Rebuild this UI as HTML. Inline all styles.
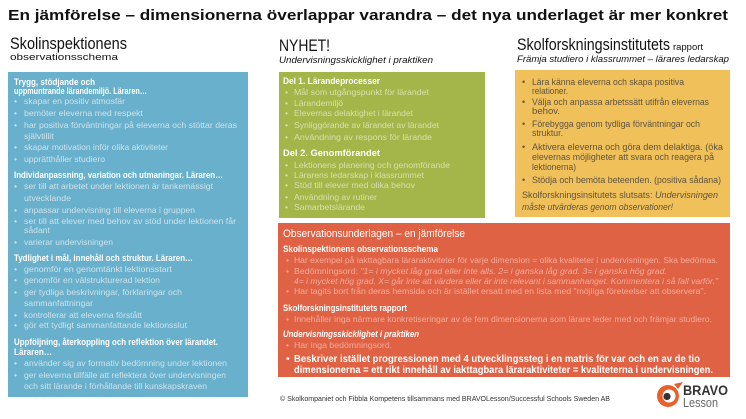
<!DOCTYPE html>
<html><head><meta charset="utf-8"><style>
html,body{margin:0;padding:0;background:#fff;}
svg{display:block;}
text{font-family:"Liberation Sans",Arial,sans-serif;}
.bl{fill:#cfe2ea;font-size:8.6px;}
.bh{fill:#fff;font-size:9px;font-weight:bold;}
.gl{fill:#d6e1ab;font-size:8.6px;}
.gh{fill:#fff;font-size:9px;font-weight:bold;}
.yl{fill:#5e5440;font-size:9px;}
.rl{fill:#f4ab9a;font-size:8.6px;}
.rh{fill:#fff;font-size:9px;font-weight:bold;}
</style></head><body>
<svg width="746" height="419" viewBox="0 0 746 419" xmlns="http://www.w3.org/2000/svg">
<rect width="746" height="419" fill="#fff"/>
<!-- title -->
<text x="8" y="20" font-size="15" font-weight="bold" fill="#111" textLength="720" lengthAdjust="spacingAndGlyphs">En jämförelse – dimensionerna överlappar varandra – det nya underlaget är mer konkret</text>
<!-- column headers -->
<text x="10" y="49" font-size="17" fill="#111" textLength="117" lengthAdjust="spacingAndGlyphs">Skolinspektionens</text>
<text x="10" y="60" font-size="9" fill="#111" textLength="108" lengthAdjust="spacingAndGlyphs">observationsschema</text>
<text x="279" y="51" font-size="17" fill="#111" textLength="51" lengthAdjust="spacingAndGlyphs">NYHET!</text>
<text x="279" y="63" font-size="9" font-style="italic" fill="#111" textLength="154" lengthAdjust="spacingAndGlyphs">Undervisningsskicklighet i praktiken</text>
<text x="517" y="50" font-size="17" fill="#111" textLength="153" lengthAdjust="spacingAndGlyphs">Skolforskningsinstitutets</text>
<text x="673" y="50" font-size="9" fill="#111" textLength="30" lengthAdjust="spacingAndGlyphs">rapport</text>
<text x="517" y="62" font-size="9" font-style="italic" fill="#111" textLength="212" lengthAdjust="spacingAndGlyphs">Främja studiero i klassrummet – lärares ledarskap</text>

<!-- blue box -->
<rect x="8" y="72" width="240" height="325" fill="#68b0cc"/>
<g>
<text class="bh" x="14" y="85" textLength="81" lengthAdjust="spacingAndGlyphs">Trygg, stödjande och</text>
<text class="bh" x="14" y="94" textLength="133" lengthAdjust="spacingAndGlyphs">uppmuntrande lärandemiljö. Läraren…</text>
<g class="bl">
<text x="14" y="104">•</text><text x="24" y="104" textLength="101" lengthAdjust="spacingAndGlyphs">skapar en positiv atmosfär</text>
<text x="14" y="116">•</text><text x="24" y="116" textLength="119" lengthAdjust="spacingAndGlyphs">bemöter eleverna med respekt</text>
<text x="14" y="128">•</text><text x="24" y="128" textLength="213" lengthAdjust="spacingAndGlyphs">har positiva förväntningar på eleverna och stöttar deras</text>
<text x="24" y="139">självtillit</text>
<text x="14" y="150">•</text><text x="24" y="150" textLength="144" lengthAdjust="spacingAndGlyphs">skapar motivation inför olika aktiviteter</text>
<text x="14" y="162">•</text><text x="24" y="162" textLength="81" lengthAdjust="spacingAndGlyphs">upprätthåller studiero</text>
</g>
<text class="bh" x="14" y="178" textLength="209" lengthAdjust="spacingAndGlyphs">Individanpassning, variation och utmaningar. Läraren…</text>
<g class="bl">
<text x="14" y="189">•</text><text x="24" y="189" textLength="189" lengthAdjust="spacingAndGlyphs">ser till att arbetet under lektionen är tankemässigt</text>
<text x="24" y="201" textLength="47" lengthAdjust="spacingAndGlyphs">utvecklande</text>
<text x="14" y="213">•</text><text x="24" y="213" textLength="171" lengthAdjust="spacingAndGlyphs">anpassar undervisning till eleverna i gruppen</text>
<text x="14" y="224">•</text><text x="24" y="224" textLength="212" lengthAdjust="spacingAndGlyphs">ser till att elever med behov av stöd under lektionen får</text>
<text x="24" y="233" textLength="26" lengthAdjust="spacingAndGlyphs">sådant</text>
<text x="14" y="245">•</text><text x="24" y="245" textLength="89" lengthAdjust="spacingAndGlyphs">varierar undervisningen</text>
</g>
<text class="bh" x="14" y="261" textLength="179" lengthAdjust="spacingAndGlyphs">Tydlighet i mål, innehåll och struktur. Läraren…</text>
<g class="bl">
<text x="14" y="272">•</text><text x="24" y="272" textLength="148" lengthAdjust="spacingAndGlyphs">genomför en genomtänkt lektionsstart</text>
<text x="14" y="283">•</text><text x="24" y="283" textLength="136" lengthAdjust="spacingAndGlyphs">genomför en välstrukturerad lektion</text>
<text x="14" y="295">•</text><text x="24" y="295" textLength="158" lengthAdjust="spacingAndGlyphs">ger tydliga beskrivningar, förklaringar och</text>
<text x="24" y="306" textLength="69" lengthAdjust="spacingAndGlyphs">sammanfattningar</text>
<text x="14" y="318">•</text><text x="24" y="318" textLength="118" lengthAdjust="spacingAndGlyphs">kontrollerar att eleverna förstått</text>
<text x="14" y="328">•</text><text x="24" y="328" textLength="163" lengthAdjust="spacingAndGlyphs">gör ett tydligt sammanfattande lektionsslut</text>
</g>
<text class="bh" x="14" y="345" textLength="204" lengthAdjust="spacingAndGlyphs">Uppföljning, återkoppling och reflektion över lärandet.</text>
<text class="bh" x="14" y="355" textLength="38" lengthAdjust="spacingAndGlyphs">Läraren…</text>
<g class="bl">
<text x="14" y="366">•</text><text x="24" y="366" textLength="203" lengthAdjust="spacingAndGlyphs">använder sig av formativ bedömning under lektionen</text>
<text x="14" y="378">•</text><text x="24" y="378" textLength="202" lengthAdjust="spacingAndGlyphs">ger eleverna tillfälle att reflektera över undervisningen</text>
<text x="24" y="389" textLength="183" lengthAdjust="spacingAndGlyphs">och sitt lärande i förhållande till kunskapskraven</text>
</g>
</g>

<!-- green box -->
<rect x="279" y="72" width="206" height="146" fill="#a4b64a"/>
<text class="gh" x="283" y="84" textLength="97" lengthAdjust="spacingAndGlyphs">Del 1. Lärandeprocesser</text>
<g class="gl">
<text x="285" y="95">•</text><text x="294" y="95" textLength="135" lengthAdjust="spacingAndGlyphs">Mål som utgångspunkt för lärandet</text>
<text x="285" y="106">•</text><text x="294" y="106" textLength="49" lengthAdjust="spacingAndGlyphs">Lärandemiljö</text>
<text x="285" y="116">•</text><text x="294" y="116" textLength="119" lengthAdjust="spacingAndGlyphs">Elevernas delaktighet i lärandet</text>
<text x="285" y="128">•</text><text x="294" y="128" textLength="145" lengthAdjust="spacingAndGlyphs">Synliggörande av lärandet av lärandet</text>
<text x="285" y="140">•</text><text x="294" y="140" textLength="138" lengthAdjust="spacingAndGlyphs">Användning av respons  för lärande</text>
</g>
<text class="gh" x="283" y="156" textLength="97" lengthAdjust="spacingAndGlyphs">Del 2. Genomförandet</text>
<g class="gl">
<text x="285" y="168">•</text><text x="294" y="168" textLength="156" lengthAdjust="spacingAndGlyphs">Lektionens planering och genomförande</text>
<text x="285" y="178">•</text><text x="294" y="178" textLength="130" lengthAdjust="spacingAndGlyphs">Lärarens ledarskap i klassrummet</text>
<text x="285" y="188">•</text><text x="294" y="188" textLength="121" lengthAdjust="spacingAndGlyphs">Stöd till elever med olika behov</text>
<text x="285" y="200">•</text><text x="294" y="200" textLength="83" lengthAdjust="spacingAndGlyphs">Användning av rutiner</text>
<text x="285" y="210">•</text><text x="294" y="210" textLength="71" lengthAdjust="spacingAndGlyphs">Samarbetslärande</text>
</g>

<!-- yellow box -->
<rect x="515" y="70" width="215" height="147" fill="#f0c05a"/>
<g class="yl">
<text x="522" y="85">•</text><text x="532" y="85" textLength="152" lengthAdjust="spacingAndGlyphs">Lära känna eleverna och skapa positiva</text>
<text x="532" y="94" textLength="36" lengthAdjust="spacingAndGlyphs">relationer.</text>
<text x="522" y="105">•</text><text x="532" y="105" textLength="177" lengthAdjust="spacingAndGlyphs">Välja och anpassa arbetssätt utifrån elevernas</text>
<text x="532" y="114" textLength="28" lengthAdjust="spacingAndGlyphs">behov.</text>
<text x="522" y="127">•</text><text x="532" y="127" textLength="168" lengthAdjust="spacingAndGlyphs">Förebygga genom tydliga förväntningar och</text>
<text x="532" y="136" textLength="31" lengthAdjust="spacingAndGlyphs">struktur.</text>
<text x="522" y="150">•</text><text x="532" y="150" textLength="191" lengthAdjust="spacingAndGlyphs">Aktivera eleverna och göra dem delaktiga. (öka</text>
<text x="532" y="160" textLength="182" lengthAdjust="spacingAndGlyphs">elevernas möjligheter att svara och reagera på</text>
<text x="532" y="170" textLength="44" lengthAdjust="spacingAndGlyphs">lektionerna)</text>
<text x="522" y="183">•</text><text x="532" y="183" textLength="189" lengthAdjust="spacingAndGlyphs">Stödja och bemöta beteenden. (positiva sådana)</text>
<text x="522" y="198" textLength="196" lengthAdjust="spacingAndGlyphs">Skolforskningsinsitutets slutsats: <tspan font-style="italic">Undervisningen</tspan></text>
<text x="522" y="210" font-style="italic" textLength="151" lengthAdjust="spacingAndGlyphs">måste utvärderas genom observationer!</text>
</g>

<!-- red box -->
<rect x="278" y="223" width="452" height="154" fill="#e06245"/>
<text x="283" y="237" font-size="11" fill="#fff" textLength="182" lengthAdjust="spacingAndGlyphs">Observationsunderlagen – en jämförelse</text>
<text class="rh" x="283" y="252" textLength="155" lengthAdjust="spacingAndGlyphs">Skolinspektionens observationsschema</text>
<g class="rl">
<text x="286" y="263">•</text><text x="294" y="263" textLength="424" lengthAdjust="spacingAndGlyphs">Har exempel på iakttagbara läraraktiviteter för varje dimension = olika kvaliteter i undervisningen. Ska bedömas.</text>
<text x="286" y="274">•</text><text x="294" y="274" textLength="373" lengthAdjust="spacingAndGlyphs">Bedömningsord: <tspan font-style="italic">"1= i mycket låg grad eller inte alls. 2= i ganska låg grad. 3= i ganska hög grad.</tspan></text>
<text x="294" y="284" font-style="italic" textLength="424" lengthAdjust="spacingAndGlyphs">4= i mycket hög grad. X= går inte att värdera eller är inte relevant i sammanhanget. Kommentera i så fall varför."</text>
<text x="286" y="294">•</text><text x="294" y="294" textLength="412" lengthAdjust="spacingAndGlyphs">Har tagits bort från deras hemsida och är istället ersatt med en lista med "möjliga företeelser att observera".</text>
</g>
<text class="rh" x="283" y="311" textLength="124" lengthAdjust="spacingAndGlyphs">Skolforskningsinstitutets rapport</text>
<g class="rl">
<text x="286" y="322">•</text><text x="294" y="322" textLength="418" lengthAdjust="spacingAndGlyphs">Innehåller inga närmare konkretiseringar av de fem dimensionerna som lärare leder med och främjar studiero.</text>
</g>
<text class="rh" x="283" y="337" font-style="italic" textLength="136" lengthAdjust="spacingAndGlyphs">Undervisningsskicklighet i praktiken</text>
<g class="rl">
<text x="286" y="348">•</text><text x="294" y="348" textLength="98" lengthAdjust="spacingAndGlyphs">Har inga bedömningsord.</text>
</g>
<text x="286" y="362" font-size="10.5" fill="#fff">•</text>
<text x="294" y="362" font-size="10.5" font-weight="bold" fill="#fff" textLength="406" lengthAdjust="spacingAndGlyphs">Beskriver istället progressionen med 4 utvecklingssteg i en matris för var och en av de tio</text>
<text x="294" y="373" font-size="10.5" font-weight="bold" fill="#fff" textLength="419" lengthAdjust="spacingAndGlyphs">dimensionerna = ett rikt innehåll av iakttagbara läraraktiviteter = kvaliteterna i undervisningen.</text>

<!-- footer -->
<text x="280" y="401" font-size="7" fill="#333" textLength="330" lengthAdjust="spacingAndGlyphs">© Skolkompaniet och Fibbla Kompetens tillsammans med BRAVOLesson/Successful Schools Sweden AB</text>

<!-- logo -->
<g>
<path d="M679 386 L681 383 L676 385 Z" fill="#e8612c"/>
<circle cx="668" cy="396" r="11" fill="#e8612c"/>
<circle cx="669" cy="396" r="6.5" fill="#fff"/>
<circle cx="667" cy="396.5" r="3.6" fill="#333"/>
<path d="M674 384 L683 382 L678 389 Z" fill="#e8612c"/>
</g>
<text x="683" y="395" font-size="13.5" font-weight="bold" fill="#333" textLength="45" lengthAdjust="spacingAndGlyphs">BRAVO</text>
<text x="683" y="407" font-size="12.5" fill="#666" textLength="35" lengthAdjust="spacingAndGlyphs">Lesson</text>
</svg>
</body></html>
